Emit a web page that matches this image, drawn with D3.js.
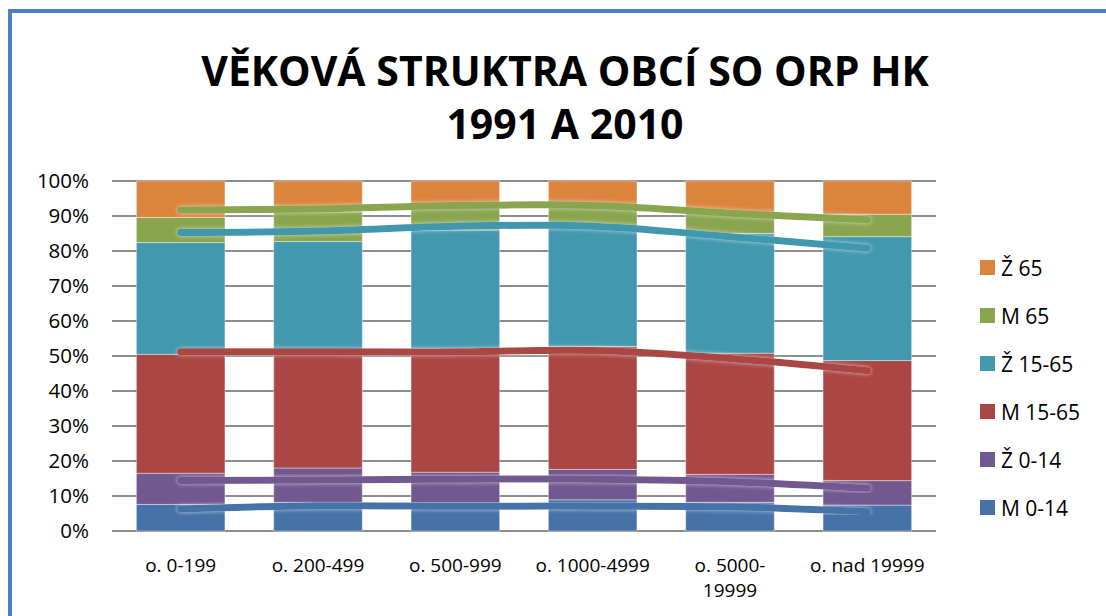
<!DOCTYPE html>
<html>
<head>
  <meta charset="utf-8">
  <script type="text/javascript" src="https://d3js.org/d3.v7.min.js"></script>
  <style>
    body {
      margin: 0;
      background-color: white;
    }
    svg text {
      font-family: "Open Sans", "Noto Sans", sans-serif;
      fill: black;
    }
  </style>
</head>
<body>
  <svg id="canvas" width="1106" height="616"></svg>
</body>
<script>
  // categories (obce podle velikosti)
  const categories = ["o. 0-199", "o. 200-499", "o. 500-999", "o. 1000-4999", "o. 5000-19999", "o. nad 19999"];
  const categoryLines = [["o. 0-199"], ["o. 200-499"], ["o. 500-999"], ["o. 1000-4999"], ["o. 5000-", "19999"], ["o. nad 19999"]];
  const seriesNames = ["M 0-14", "Ž 0-14", "M 15-65", "Ž 15-65", "M 65", "Ž 65"];
  const colors = ["#4572A7", "#71588F", "#AA4643", "#4198AF", "#89A54E", "#DB843D"];
  const yTicks = [0, 10, 20, 30, 40, 50, 60, 70, 80, 90, 100];

  // 2010 shares (bars), percent
  const m014_2010 = [7.6, 8.2, 8.0, 8.9, 8.2, 7.4];
  const z014_2010 = [8.9, 9.8, 8.8, 8.7, 8.0, 7.0];
  const m1565_2010 = [34.0, 33.8, 35.4, 35.1, 34.6, 34.3];
  const z1565_2010 = [31.9, 30.9, 33.8, 33.8, 34.2, 35.4];
  const m65_2010 = [7.2, 8.5, 6.5, 6.0, 6.0, 6.4];
  const z65_2010 = [10.4, 8.8, 7.5, 7.5, 9.0, 9.5];

  // 1991 shares (lines), percent
  const m014_1991 = [6.3, 7.2, 7.1, 7.1, 6.9, 5.5];
  const z014_1991 = [8.1, 7.4, 7.7, 7.7, 7.2, 6.7];
  const m1565_1991 = [36.8, 36.6, 36.4, 36.8, 35.2, 33.6];
  const z1565_1991 = [34.1, 34.5, 35.9, 35.5, 34.8, 35.0];
  const m65_1991 = [6.4, 6.3, 5.9, 5.9, 6.7, 8.1];
  const z65_1991 = [8.3, 8.0, 7.0, 7.0, 9.2, 11.1];

  const data2010 = [m014_2010, z014_2010, m1565_2010, z1565_2010, m65_2010, z65_2010];
  const data1991 = [m014_1991, z014_1991, m1565_1991, z1565_1991, m65_1991, z65_1991];

  let svg = d3.select("svg");
  let plot = { left: 112, right: 936, top: 181, bottom: 531 };

  draw();

  function toRows(series) {
    return categories.map((c, i) => {
      let row = { cat: c };
      seriesNames.forEach((s, j) => row[s] = series[j][i]);
      return row;
    });
  }

  function draw() {
    let defs = svg.append("defs");
    defs.append("clipPath").attr("id", "plotClip")
      .append("rect")
        .attr("x", plot.left).attr("y", plot.top)
        .attr("width", plot.right - plot.left).attr("height", plot.bottom - plot.top);

    // soft white glow round the lines
    let glow = defs.append("filter").attr("id", "glow")
      .attr("x", "-10%").attr("y", "-50%").attr("width", "120%").attr("height", "200%");
    glow.append("feGaussianBlur").attr("in", "SourceAlpha").attr("stdDeviation", 2).attr("result", "b");
    glow.append("feFlood").attr("flood-color", "white").attr("flood-opacity", 0.6);
    glow.append("feComposite").attr("in2", "b").attr("operator", "in").attr("result", "g");
    let merge = glow.append("feMerge");
    merge.append("feMergeNode").attr("in", "g");
    merge.append("feMergeNode").attr("in", "SourceGraphic");

    // frame
    svg.append("rect")
      .attr("x", 10).attr("y", 11)
      .attr("width", 1200).attr("height", 700)
      .attr("fill", "none")
      .attr("stroke", "#4F81BD")
      .attr("stroke-width", 4);

    // title
    let title = svg.append("text")
      .attr("text-anchor", "middle")
      .style("font-weight", "bold")
      .style("font-size", "41px");
    title.append("tspan").attr("x", 565).attr("y", 86).text("VĚKOVÁ STRUKTRA OBCÍ SO ORP HK");
    title.append("tspan").attr("x", 565).attr("y", 139).text("1991 A 2010");

    let x = d3.scaleBand().domain(categories).range([plot.left, plot.right]).paddingInner(0.355).paddingOuter(0.1775);
    let y = d3.scaleLinear().domain([0, 100]).range([plot.bottom, plot.top]);

    // gridlines
    svg.append("g")
      .selectAll("line")
      .data(yTicks)
      .join("line")
        .attr("x1", plot.left).attr("x2", plot.right)
        .attr("y1", d => y(d)).attr("y2", d => y(d))
        .attr("stroke", "#8c8c8c")
        .attr("stroke-width", 2);

    // y labels
    svg.append("g")
      .selectAll("text")
      .data(yTicks)
      .join("text")
        .attr("x", 89)
        .attr("y", d => y(d) + 7)
        .attr("text-anchor", "end")
        .style("font-size", "20.5px")
        .text(d => d + "%");

    // bars
    let stack = d3.stack().keys(seriesNames);
    let bars = stack(toRows(data2010));
    svg.append("g")
      .selectAll("g")
      .data(bars)
      .join("g")
        .attr("fill", (d, i) => colors[i])
      .selectAll("rect")
      .data(d => d)
      .join("rect")
        .attr("x", d => x(d.data.cat))
        .attr("width", x.bandwidth())
        .attr("y", d => y(d[1]))
        .attr("height", d => y(d[0]) - y(d[1]))
        .attr("stroke", "rgba(255,255,255,0.4)")
        .attr("stroke-width", 1);

    // 1991 lines (cumulative)
    let lines = stack(toRows(data1991));
    let line = d3.line()
      .x(d => x(d.data.cat) + x.bandwidth() / 2)
      .y(d => y(d[1]))
      .curve(d3.curveCatmullRom);
    svg.append("g")
      .attr("clip-path", "url(#plotClip)")
      .selectAll("path")
      .data(lines)
      .join("path")
        .attr("d", line)
        .attr("fill", "none")
        .attr("stroke", (d, i) => colors[i])
        .attr("stroke-width", 7)
        .attr("stroke-linecap", "round")
        .attr("filter", "url(#glow)");

    // x labels
    svg.append("g")
      .selectAll("text")
      .data(categories)
      .join("text")
        .attr("text-anchor", "middle")
        .style("font-size", "19px")
        .each(function (c, i) {
          let t = d3.select(this);
          categoryLines[i].forEach((s, k) => {
            t.append("tspan")
              .attr("x", x(c) + x.bandwidth() / 2)
              .attr("y", 572 + k * 25)
              .text(s);
          });
        });

    // legend
    let legend = svg.append("g")
      .selectAll("g")
      .data(seriesNames.slice().reverse())
      .join("g")
        .attr("transform", (d, i) => `translate(980, ${260 + i * 48})`);
    legend.append("rect")
      .attr("width", 15).attr("height", 15)
      .attr("fill", d => colors[seriesNames.indexOf(d)]);
    legend.append("text")
      .attr("x", 21).attr("y", 16)
      .style("font-size", "21px")
      .text(d => d);
  }
</script>
</html>
